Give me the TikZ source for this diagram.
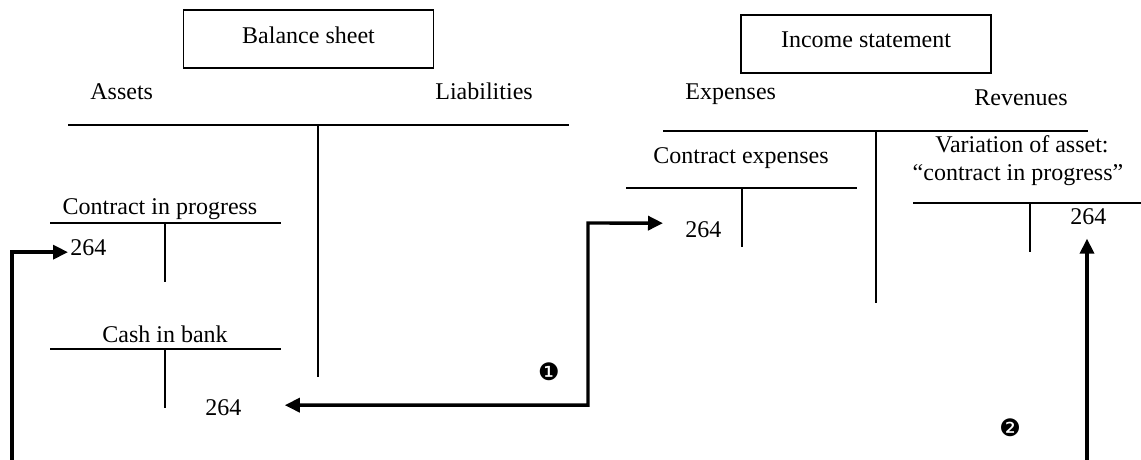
\documentclass[tikz,border=0pt]{standalone}
\usepackage{fontspec}
\setmainfont{Liberation Serif}
\newfontfamily\dingfont{DejaVu Sans}
\usetikzlibrary{arrows.meta}
\begin{document}
\begin{tikzpicture}[x=0.5pt,y=-0.5pt,
  >={Triangle[length=7.5pt,width=7pt]},
  lbl/.style={inner sep=0pt,anchor=base,font=\fontsize{12}{14}\selectfont},
  num/.style={lbl,anchor=base west},
  titlebox/.style={draw,line width=0.9pt,inner sep=0pt,minimum width=125pt,
    minimum height=29pt,text depth=4pt,font=\fontsize{12}{14}\selectfont},
  rule/.style={line width=0.8pt},
  flow/.style={line width=1.7pt,->},
  dflow/.style={line width=1.7pt,<->},
  marker/.style={inner sep=0pt,font=\dingfont\fontsize{12}{12}\selectfont}]
\useasboundingbox (0,0) rectangle (1141,460);

% ---- balance sheet ----
\node[titlebox] (bs) at (308.5,39) {Balance sheet};
\node[lbl,anchor=base west] (assets) at (90,100) {Assets};
\node[lbl,anchor=base west] (liab) at (435,100) {Liabilities};
\draw[rule] (68,125) -- (569,125);
\draw[rule] (318,125) -- (318,377);

% contract in progress account
\node[lbl] (cip) at (160,214) {Contract in progress};
\draw[rule] (50,223) -- (281,223);
\draw[rule] (165,223) -- (165,282);
\node[num] (cip264) at (70,256) {264};

% cash in bank account
\node[lbl] (cash) at (165,342) {Cash in bank};
\draw[rule] (50,349) -- (281,349);
\draw[rule] (165,349) -- (165,408);
\node[num] (cash264) at (205,415) {264};

% ---- income statement ----
\node[titlebox] (is) at (866,44) {Income statement};
\node[lbl,anchor=base west] (exp) at (685,100) {Expenses};
\node[lbl,anchor=base west] (rev) at (974,106) {Revenues};
\draw[rule] (663,131) -- (1088,131);
\draw[rule] (876,131) -- (876,303);

% contract expenses account
\node[lbl] (cexp) at (741,163) {Contract expenses};
\draw[rule] (626,188) -- (857,188);
\draw[rule] (742,188) -- (742,247);
\node[num] (exp264) at (685,237) {264};

% variation of asset account
\node[lbl] (var1) at (1022,153) {Variation of asset:};
\node[lbl] (var2) at (1018,180) {“contract in progress”};
\draw[rule] (913,203) -- (1141,203);
\draw[rule] (1030,203) -- (1030,252);
\node[num] (var264) at (1070,224) {264};

% ---- flows ----
\coordinate (srcA) at (12,460);
\draw[flow,shorten >=1pt] (srcA) |- ([yshift=-2pt]cip264.west);

\coordinate (j1) at (588,223);
\draw[dflow] ([xshift=21.5pt,yshift=1pt]cash264.east) -| (j1)
  -- ([xshift=-11pt,yshift=3pt]exp264.west);

\coordinate (srcC) at (1087,460);
\draw[flow,shorten >=7pt] (srcC) -- (srcC |- var264.south);

\node[marker] (m1) at (549,372) {❶};
\node[marker] (m2) at (1010,428) {❷};
\end{tikzpicture}
\end{document}
